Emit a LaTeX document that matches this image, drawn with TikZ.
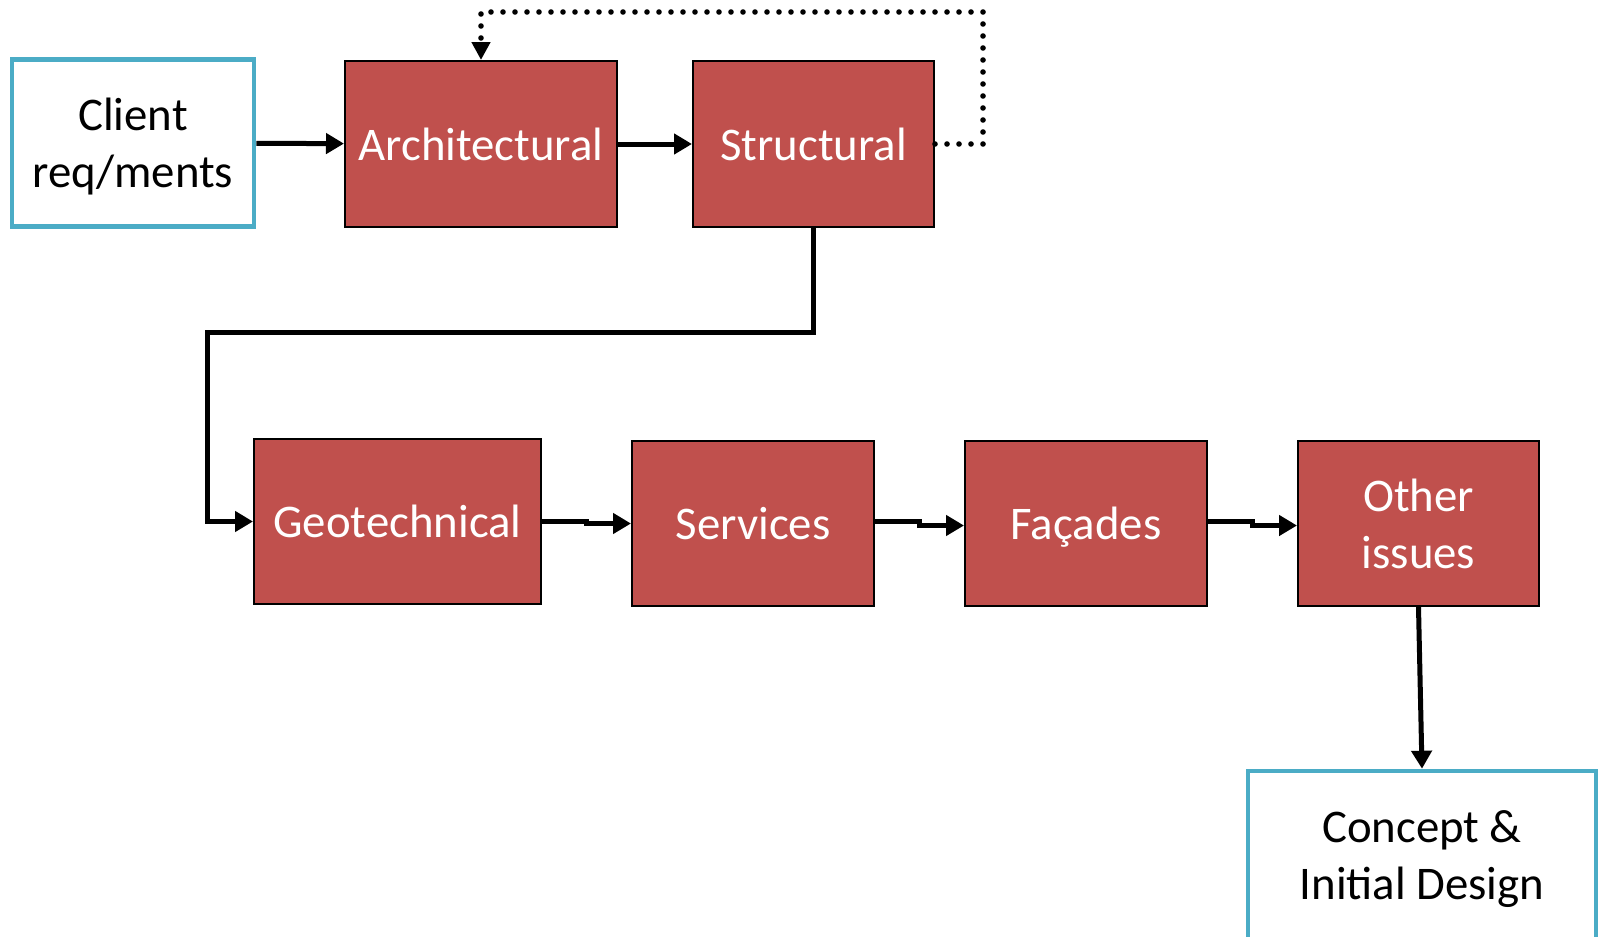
\documentclass[tikz,border=0pt]{standalone}
\usepackage{fontspec}
\setmainfont{Carlito}
\usetikzlibrary{arrows.meta,calc}
\definecolor{boxred}{HTML}{C0504D}
\definecolor{boxblue}{HTML}{4BACC6}
\begin{document}
\begin{tikzpicture}[x=0.5pt,y=-0.5pt,
  redbox/.style={draw=black,line width=1pt,fill=boxred,text=white,inner sep=0pt,
    align=center,text depth=0pt,font=\fontsize{23.4}{28.6}\selectfont},
  bluebox/.style={draw=boxblue,line width=2.3pt,fill=white,text=black,inner sep=0pt,
    align=center,text depth=0pt,font=\fontsize{23.4}{28.6}\selectfont},
  conn/.style={line width=2.5pt,-{Triangle[length=9pt,width=10pt]}},
  dotconn/.style={line width=2.8pt,line cap=round,dash pattern=on 0pt off 6pt,
    -{Triangle[length=9pt,width=9pt]}}]
\useasboundingbox (0,0) rectangle (1601,937);
\node[bluebox,minimum width=121pt,minimum height=83.5pt] (client) at (133,143) {Client\\req/ments};
\node[redbox,minimum width=136pt,minimum height=83pt] (arch) at (481,144) {Architectural};
\node[redbox,minimum width=120.5pt,minimum height=83pt] (struct) at (813.5,144) {Structural};
\node[redbox,minimum width=143.5pt,minimum height=82.5pt] (geo) at (397.5,521.5) {Geotechnical};
\node[redbox,minimum width=121pt,minimum height=82.5pt] (serv) at (753,523.5) {Services};
\node[redbox,minimum width=121pt,minimum height=82.5pt] (fac) at (1086,523.5) {Façades};
\node[redbox,minimum width=120.5pt,minimum height=82.5pt] (other) at (1418.5,523.5) {Other\\issues};
\node[bluebox,minimum width=174pt,minimum height=84pt] (concept) at (1422,855) {Concept \&\\Initial Design};
\coordinate (bend) at (207,332);
\coordinate (loop) at (983,12);
\draw[conn] (client) -- (arch);
\draw[conn] (arch) -- (struct);
\draw[conn] (struct.south) |- (bend) |- (geo.west);
\draw[conn] (geo.east) -| ($(geo.east)!.5!(serv.west)$) |- (serv.west);
\draw[conn] ([yshift=1pt]serv.east) -| ($(serv.east)!.5!(fac.west)$) |- ([yshift=-1pt]fac.west);
\draw[conn] ([yshift=1pt]fac.east) -| ($(fac.east)!.5!(other.west)$) |- ([yshift=-1pt]other.west);
\draw[conn] (other.south) -- (concept.north);
\draw[dotconn] (struct.east) -| (loop) -| (arch.north);
\end{tikzpicture}
\end{document}
